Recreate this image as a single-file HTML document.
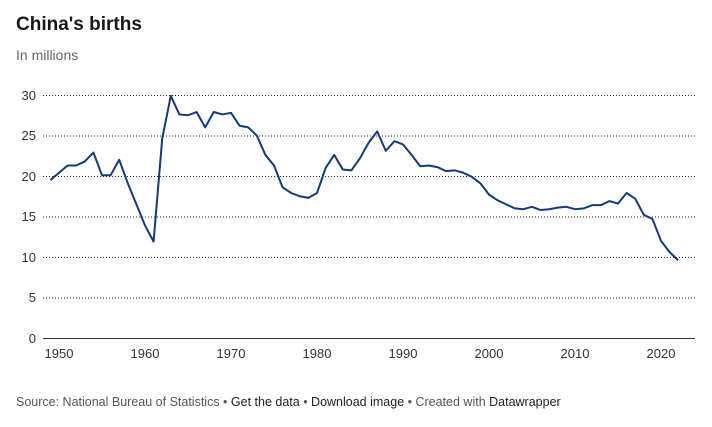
<!DOCTYPE html>
<html><head><meta charset="utf-8"><style>
body{margin:0;width:712px;height:422px;background:#fff;font-family:"Liberation Sans",sans-serif;overflow:hidden}
</style></head><body>
<svg width="712" height="422" xmlns="http://www.w3.org/2000/svg" font-family="Liberation Sans, sans-serif">
<text x="16" y="30" font-size="19" font-weight="bold" fill="#181818">China's births</text>
<text x="16" y="60" font-size="14" fill="#666">In millions</text>
<g stroke="#222" stroke-width="1" stroke-dasharray="1,2">
<line x1="43" x2="695" y1="95.5" y2="95.5"/>
<line x1="43" x2="695" y1="136" y2="136"/>
<line x1="43" x2="695" y1="176.5" y2="176.5"/>
<line x1="43" x2="695" y1="217" y2="217"/>
<line x1="43" x2="695" y1="257.5" y2="257.5"/>
<line x1="43" x2="695" y1="298" y2="298"/>
</g>
<line x1="43" x2="695" y1="338.5" y2="338.5" stroke="#333" stroke-width="1"/>
<g font-size="13" fill="#333" text-anchor="end">
<text x="36" y="100">30</text><text x="36" y="140">25</text><text x="36" y="181">20</text>
<text x="36" y="221">15</text><text x="36" y="262">10</text><text x="36" y="302">5</text><text x="36" y="343">0</text>
</g>
<g font-size="13" fill="#333" text-anchor="middle">
<text x="59" y="358">1950</text><text x="145" y="358">1960</text><text x="231" y="358">1970</text>
<text x="317" y="358">1980</text><text x="403" y="358">1990</text><text x="489" y="358">2000</text>
<text x="575" y="358">2010</text><text x="661" y="358">2020</text>
</g>
<g transform="translate(59,338) scale(8.6,-8.1)">
<polyline fill="none" stroke="#15397a" stroke-width="2" vector-effect="non-scaling-stroke" stroke-linejoin="round" points="-1,19.5 0,20.4 1,21.3 2,21.3 3,21.8 4,22.9 5,20.1 6,20.1 7,22.0 8,19.1 9,16.5 10,13.9 11,11.9 12,24.6 13,29.9 14,27.6 15,27.5 16,27.9 17,26.0 18,27.9 19,27.6 20,27.8 21,26.2 22,26.0 23,25.0 24,22.6 25,21.3 26,18.6 27,17.9 28,17.5 29,17.3 30,17.9 31,21.0 32,22.6 33,20.8 34,20.7 35,22.2 36,24.1 37,25.5 38,23.1 39,24.3 40,23.9 41,22.6 42,21.2 43,21.3 44,21.1 45,20.6 46,20.7 47,20.4 48,19.9 49,19.1 50,17.7 51,17.0 52,16.5 53,16.0 54,15.9 55,16.2 56,15.8 57,15.9 58,16.1 59,16.2 60,15.9 61,16.0 62,16.4 63,16.4 64,16.9 65,16.6 66,17.9 67,17.2 68,15.2 69,14.7 70,12.0 71,10.6 72,9.6"/>
</g>
<text x="16" y="406" font-size="12.5" fill="#555">Source: National Bureau of Statistics • <tspan fill="#222">Get the data</tspan> • <tspan fill="#222">Download image</tspan> • Created with <tspan fill="#222">Datawrapper</tspan></text>
</svg>
</body></html>
